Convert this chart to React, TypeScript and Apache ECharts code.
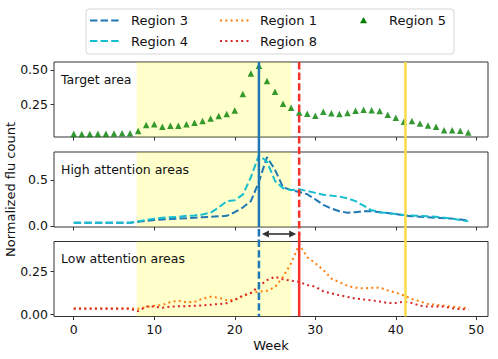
import React, { useEffect, useRef } from "react";
import * as echarts from "echarts";

const weeks = [0, 1, 2, 3, 4, 5, 6, 7, 8, 9, 10, 11, 12, 13, 14, 15, 16, 17, 18, 19, 20, 21, 22, 23, 24, 25, 26, 27, 28, 29, 30, 31, 32, 33, 34, 35, 36, 37, 38, 39, 40, 41, 42, 43, 44, 45, 46, 47, 48, 49];

// Target area (Region 5)
const region5 = [0.035, 0.033, 0.033, 0.035, 0.035, 0.037, 0.04, 0.04, 0.055, 0.1, 0.105, 0.087, 0.094, 0.094, 0.105, 0.115, 0.128, 0.147, 0.165, 0.18, 0.205, 0.325, 0.475, 0.53, 0.42, 0.342, 0.254, 0.225, 0.19, 0.182, 0.167, 0.196, 0.184, 0.179, 0.186, 0.203, 0.211, 0.206, 0.201, 0.174, 0.152, 0.123, 0.128, 0.111, 0.096, 0.087, 0.062, 0.062, 0.057, 0.045];

// High attention areas
const region3 = [0.035, 0.035, 0.035, 0.035, 0.035, 0.035, 0.035, 0.035, 0.045, 0.055, 0.065, 0.07, 0.075, 0.08, 0.085, 0.09, 0.095, 0.1, 0.105, 0.11, 0.15, 0.2, 0.27, 0.48, 0.75, 0.61, 0.42, 0.39, 0.37, 0.345, 0.29, 0.23, 0.19, 0.16, 0.145, 0.15, 0.16, 0.16, 0.15, 0.14, 0.13, 0.115, 0.105, 0.1, 0.095, 0.09, 0.085, 0.08, 0.07, 0.06];
const region4 = [0.035, 0.035, 0.035, 0.035, 0.035, 0.035, 0.035, 0.035, 0.05, 0.065, 0.08, 0.09, 0.095, 0.1, 0.11, 0.115, 0.125, 0.145, 0.2, 0.27, 0.28, 0.34, 0.53, 0.77, 0.7, 0.49, 0.41, 0.39, 0.4, 0.38, 0.36, 0.34, 0.33, 0.32, 0.3, 0.27, 0.22, 0.17, 0.15, 0.14, 0.13, 0.12, 0.115, 0.11, 0.105, 0.1, 0.09, 0.08, 0.065, 0.05];

// Low attention areas
const region1 = [0.035, 0.035, 0.035, 0.035, 0.035, 0.035, 0.035, 0.035, 0.033, 0.042, 0.05, 0.055, 0.072, 0.08, 0.07, 0.073, 0.092, 0.103, 0.097, 0.083, 0.085, 0.105, 0.125, 0.133, 0.138, 0.16, 0.22, 0.3, 0.41, 0.335, 0.3, 0.26, 0.21, 0.188, 0.167, 0.156, 0.152, 0.155, 0.157, 0.14, 0.128, 0.11, 0.09, 0.076, 0.06, 0.056, 0.05, 0.045, 0.04, 0.035];
const region8 = [0.032, 0.032, 0.032, 0.032, 0.032, 0.032, 0.032, 0.032, 0.018, 0.045, 0.045, 0.038, 0.045, 0.047, 0.048, 0.05, 0.052, 0.056, 0.06, 0.065, 0.085, 0.11, 0.125, 0.165, 0.2, 0.22, 0.205, 0.197, 0.19, 0.172, 0.162, 0.135, 0.123, 0.112, 0.102, 0.092, 0.087, 0.082, 0.075, 0.066, 0.066, 0.074, 0.066, 0.05, 0.045, 0.045, 0.045, 0.035, 0.03, 0.03];

const xTickValues = [0, 10, 20, 30, 40, 50];
const yTickTop = [0.25, 0.5];
const yTickMid = [0, 0.5];
const yTickLow = [0, 0.25];
const yDecimals = [2, 1, 2];
const panelTitles = ["Target area", "High attention areas", "Low attention areas"];
const shadeWeeks = [7.8, 27];
const targetPeakWeek = 23;
const lowPeakWeek = 28;
const yellowWeek = 41.2;

const FONT = "DejaVu Sans";
const W = 498;
const H = 359;
const LEFT = 54;
const RIGHT = 10;
const TOPS = [62, 152, 241.5];
const PH = 75;
const X_RANGE = [-2.45, 51.45];
const Y_RANGES = [
  [0.012, 0.558],
  [-0.011, 0.804],
  [-0.013, 0.427],
];
const Y_TICKS = [yTickTop, yTickMid, yTickLow];

const C_BLUE = "#1f77b4";
const C_CYAN = "#17becf";
const C_ORANGE = "#ff7f0e";
const C_RED = "#d62728";
const C_GREEN = "#008000";
const C_VRED = "#f5312a";
const C_YELLOW = "#f9dc45";
const DASH = [7.4, 3.2];
const DOT = [2, 3.3];

export default function App() {
  const ref = useRef<HTMLDivElement>(null);

  useEffect(() => {
    document.body.style.margin = "0";
    const el = ref.current;
    if (!el) return;
    const chart = echarts.init(el, null, { renderer: "svg", width: W, height: H });

    const grids = TOPS.map((t) => ({
      left: LEFT,
      right: RIGHT,
      top: t,
      height: PH,
      show: true,
      borderColor: "#333",
      borderWidth: 1,
      backgroundColor: "transparent",
      containLabel: false,
      outerBoundsMode: "none",
    }));

    const xAxes = TOPS.map((_, i) => ({
      type: "value",
      gridIndex: i,
      min: X_RANGE[0],
      max: X_RANGE[1],
      axisLine: { show: false, onZero: false },
      splitLine: { show: false },
      axisTick: {
        show: true,
        inside: false,
        length: 3.5,
        customValues: xTickValues,
        lineStyle: { color: "#333", width: 1 },
      },
      axisLabel: {
        show: i === 2,
        customValues: xTickValues,
        margin: 6,
        fontFamily: FONT,
        fontSize: 12.5,
        color: "#111",
      },
      ...(i === 2
        ? {
            name: "Week",
            nameLocation: "middle",
            nameGap: 22,
            nameTextStyle: { fontFamily: FONT, fontSize: 13, color: "#111" },
          }
        : {}),
    }));

    const yAxes = TOPS.map((_, i) => ({
      type: "value",
      gridIndex: i,
      min: Y_RANGES[i][0],
      max: Y_RANGES[i][1],
      axisLine: { show: false, onZero: false },
      splitLine: { show: false },
      axisTick: {
        show: true,
        inside: false,
        length: 3.5,
        customValues: Y_TICKS[i],
        lineStyle: { color: "#333", width: 1 },
      },
      axisLabel: {
        show: true,
        customValues: Y_TICKS[i],
        margin: 6,
        fontFamily: FONT,
        fontSize: 12.5,
        color: "#111",
        formatter: (v: number) => v.toFixed(yDecimals[i]),
      },
      ...(i === 1
        ? {
            name: "Normalized flu count",
            nameLocation: "middle",
            nameGap: 26,
            nameRotate: 90,
            nameTextStyle: { fontFamily: FONT, fontSize: 13, color: "#111" },
          }
        : {}),
    }));

    const pairs = (vals: number[]) => weeks.map((w, i) => [w, vals[i]]);

    const shadeSeries = TOPS.map((_, i) => ({
      type: "line",
      name: "shade" + i,
      xAxisIndex: i,
      yAxisIndex: i,
      data: [],
      z: 5,
      silent: true,
      markArea: {
        silent: true,
        itemStyle: { color: "rgba(255,255,0,0.2)" },
        data: [[{ xAxis: shadeWeeks[0] }, { xAxis: shadeWeeks[1] }]],
      },
    }));

    const option: any = {
      animation: false,
      backgroundColor: "#fff",
      textStyle: { fontFamily: FONT },
      grid: grids,
      xAxis: xAxes,
      yAxis: yAxes,
      series: [
        {
          type: "scatter",
          name: "Region 5",
          xAxisIndex: 0,
          yAxisIndex: 0,
          symbol: "triangle",
          symbolSize: 6.5,
          itemStyle: { color: C_GREEN },
          data: pairs(region5),
          z: 2,
        },
        {
          type: "line",
          name: "Region 3",
          xAxisIndex: 1,
          yAxisIndex: 1,
          showSymbol: false,
          lineStyle: { color: C_BLUE, width: 2, type: DASH },
          data: pairs(region3),
          z: 2,
        },
        {
          type: "line",
          name: "Region 4",
          xAxisIndex: 1,
          yAxisIndex: 1,
          showSymbol: false,
          lineStyle: { color: C_CYAN, width: 2, type: DASH },
          data: pairs(region4),
          z: 2,
        },
        {
          type: "line",
          name: "Region 1",
          xAxisIndex: 2,
          yAxisIndex: 2,
          showSymbol: false,
          lineStyle: { color: C_ORANGE, width: 2, type: DOT, cap: "butt" },
          data: pairs(region1),
          z: 2,
        },
        {
          type: "line",
          name: "Region 8",
          xAxisIndex: 2,
          yAxisIndex: 2,
          showSymbol: false,
          lineStyle: { color: C_RED, width: 2, type: DOT, cap: "butt" },
          data: pairs(region8),
          z: 2,
        },
        ...shadeSeries,
      ],
    };

    chart.setOption(option);

    const px = (w: number) => chart.convertToPixel({ xAxisIndex: 0 }, w) as number;
    const xb = px(targetPeakWeek);
    const xr = px(lowPeakWeek);
    const xy = px(yellowWeek);
    const top1 = TOPS[0];
    const bot2 = TOPS[1] + PH;
    const bot3 = TOPS[2] + PH;
    const arrowY = 234;

    const vline = (x: number, y1: number, y2: number, color: string, dash: number[] | null) => ({
      type: "line",
      silent: true,
      z: 3,
      shape: { x1: x, y1, x2: x, y2 },
      style: { stroke: color, lineWidth: 2.5, lineDash: dash || undefined },
    });

    const ax1 = xb + 3;
    const ax2 = xr - 3;

    // legend layout
    const lgX = 86;
    const lgY = 9;
    const lgW = 368;
    const lgH = 45;
    const rowY = [20.5, 41];
    const colSample = [90, 220, 349];
    const colText = [131, 260, 389];
    const sampleLen = 29;

    const legendItems: any[] = [
      {
        type: "rect",
        silent: true,
        z: 20,
        shape: { x: lgX, y: lgY, width: lgW, height: lgH, r: 3 },
        style: { fill: "rgba(255,255,255,0.8)", stroke: "#d6d6d6", lineWidth: 1 },
      },
    ];
    const lineEntries = [
      { name: "Region 3", color: C_BLUE, dash: DASH, col: 0, row: 0 },
      { name: "Region 4", color: C_CYAN, dash: DASH, col: 0, row: 1 },
      { name: "Region 1", color: C_ORANGE, dash: DOT, col: 1, row: 0 },
      { name: "Region 8", color: C_RED, dash: DOT, col: 1, row: 1 },
    ];
    lineEntries.forEach((e) => {
      legendItems.push({
        type: "line",
        silent: true,
        z: 21,
        shape: { x1: colSample[e.col], y1: rowY[e.row], x2: colSample[e.col] + sampleLen, y2: rowY[e.row] },
        style: { stroke: e.color, lineWidth: 2, lineDash: e.dash },
      });
      legendItems.push({
        type: "text",
        silent: true,
        z: 21,
        x: colText[e.col],
        y: rowY[e.row],
        style: { text: e.name, fill: "#111", font: `13px "${FONT}"`, verticalAlign: "middle" },
      });
    });
    const tcx = colSample[2] + sampleLen / 2;
    const tcy = rowY[0];
    legendItems.push({
      type: "polygon",
      silent: true,
      z: 21,
      shape: { points: [[tcx, tcy - 3.5], [tcx + 3.5, tcy + 2.8], [tcx - 3.5, tcy + 2.8]] },
      style: { fill: C_GREEN },
    });
    legendItems.push({
      type: "text",
      silent: true,
      z: 21,
      x: colText[2],
      y: rowY[0],
      style: { text: "Region 5", fill: "#111", font: `13px "${FONT}"`, verticalAlign: "middle" },
    });

    const titleItems = panelTitles.map((t, i) => ({
      type: "text",
      silent: true,
      z: 10,
      x: LEFT + 7,
      y: TOPS[i] + 17,
      style: { text: t, fill: "#111", font: `12.5px "${FONT}"`, verticalAlign: "middle" },
    }));

    chart.setOption({
      graphic: [
        vline(xb, top1, bot2, C_BLUE, null),
        vline(xb, bot2 + 2, bot3, C_BLUE, DASH),
        vline(xr, top1, arrowY + 1, C_VRED, DASH),
        vline(xr, arrowY - 1, bot3, C_VRED, null),
        vline(xy, top1, bot3, C_YELLOW, null),
        {
          type: "line",
          silent: true,
          z: 12,
          shape: { x1: ax1 + 4, y1: arrowY, x2: ax2 - 4, y2: arrowY },
          style: { stroke: "#333", lineWidth: 1.6 },
        },
        {
          type: "polygon",
          silent: true,
          z: 12,
          shape: { points: [[ax1, arrowY], [ax1 + 7, arrowY - 3.5], [ax1 + 7, arrowY + 3.5]] },
          style: { fill: "#333" },
        },
        {
          type: "polygon",
          silent: true,
          z: 12,
          shape: { points: [[ax2, arrowY], [ax2 - 7, arrowY - 3.5], [ax2 - 7, arrowY + 3.5]] },
          style: { fill: "#333" },
        },
        ...titleItems,
        ...legendItems,
      ],
    });

    return () => {
      chart.dispose();
    };
  }, []);

  return <div ref={ref} style={{ width: W, height: H }} />;
}
